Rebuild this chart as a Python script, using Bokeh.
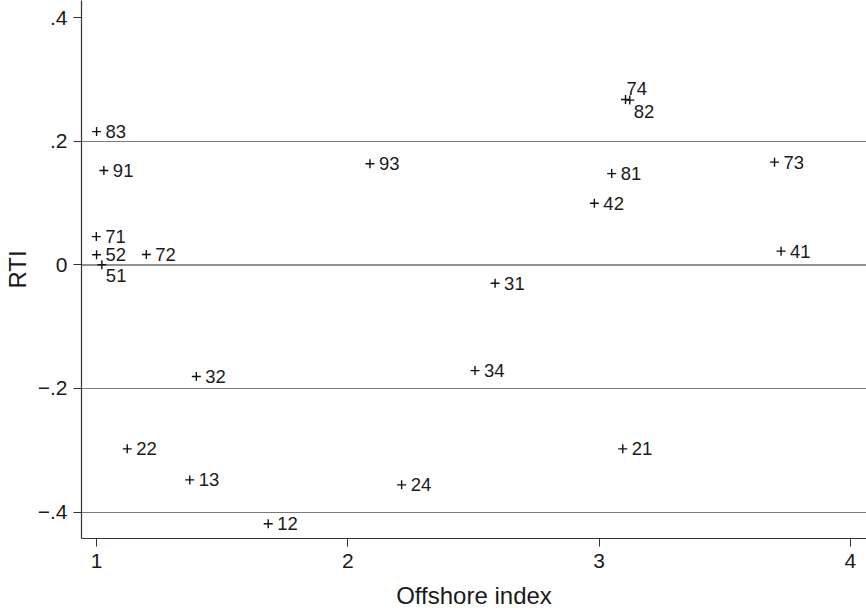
from bokeh.plotting import figure
from bokeh.models import ColumnDataSource, LabelSet, FixedTicker, Range1d, Span
from bokeh.core.properties import value
from bokeh.embed import file_html
from bokeh.resources import INLINE

# Data
labels = ["83", "91", "93", "71", "52", "72", "51",
          "74", "82", "81", "42", "73", "41", "31",
          "32", "34", "22", "21", "13", "24", "12"]
offshore = [1.000, 1.029, 2.088, 0.999, 1.000, 1.198, 1.021,
            3.105, 3.122, 3.050, 2.981, 3.698, 3.724, 2.586,
            1.397, 2.506, 1.122, 3.094, 1.371, 2.214, 1.683]
rti = [0.216, 0.153, 0.164, 0.046, 0.0165, 0.017, 0.0003,
       0.268, 0.267, 0.148, 0.100, 0.1665, 0.0224, -0.0295,
       -0.1806, -0.171, -0.2977, -0.2977, -0.348, -0.356, -0.419]
# marker-label clock positions (as in Stata's mlabvposition)
label_clock = [3, 3, 3, 3, 3, 3, 5,
               1, 5, 3, 3, 3, 3, 3,
               3, 3, 3, 3, 3, 3, 3]

x_ticks = [1, 2, 3, 4]
y_ticks = [-0.4, -0.2, 0, 0.2, 0.4]
y_tick_labels = ["\u2212.4", "\u2212.2", "0", ".2", ".4"]
grid_values = [-0.4, -0.2, 0.2]

FONT = "Liberation Sans"
TXT = "#1a1a1a"

clock_offsets = {3: (9, 0), 1: (1, 11), 5: (4, -11)}
xo = [clock_offsets[c][0] for c in label_clock]
yo = [clock_offsets[c][1] for c in label_clock]

src = ColumnDataSource(dict(x=offshore, y=rti, lab=labels, xo=xo, yo=yo))

p = figure(width=866, height=611, output_backend="svg", toolbar_location=None,
           x_range=Range1d(0.940, 4.064), y_range=Range1d(-0.4429, 0.4283),
           min_border_left=70, min_border_right=0, min_border_top=0,
           min_border_bottom=73)
p.outline_line_color = None
p.background_fill_color = "white"
p.border_fill_color = "white"

# grid lines
p.xgrid.visible = False
p.ygrid.ticker = FixedTicker(ticks=grid_values)
p.ygrid.grid_line_color = "#7a7a7a"
p.ygrid.grid_line_width = 1.2
p.add_layout(Span(location=0, dimension="width", line_color="#222222", line_width=1.2))

for ax in (p.xaxis[0], p.yaxis[0]):
    ax.axis_line_color = "#333333"
    ax.axis_line_width = 1.2
    ax.major_tick_line_color = "#333333"
    ax.major_tick_out = 8
    ax.major_tick_in = 0
    ax.minor_tick_line_color = None
    ax.major_label_text_font = FONT
    ax.major_label_text_font_size = "21px"
    ax.major_label_text_color = TXT
    ax.axis_label_text_font = FONT
    ax.axis_label_text_font_size = "24px"
    ax.axis_label_text_font_style = "normal"
    ax.axis_label_text_color = TXT

p.xaxis.ticker = FixedTicker(ticks=x_ticks)
p.yaxis.ticker = FixedTicker(ticks=y_ticks)
p.yaxis.major_label_overrides = {v: s for v, s in zip(y_ticks, y_tick_labels)}
p.yaxis.major_label_orientation = "horizontal"
p.xaxis.axis_label = "Offshore index"
p.yaxis.axis_label = "RTI"
p.xaxis.major_label_standoff = 7
p.yaxis.major_label_standoff = 6
p.xaxis.axis_label_standoff = 11
p.yaxis.axis_label_standoff = 4

p.scatter("x", "y", source=src, marker="cross", size=9, line_color="#111111", line_width=1.4)

p.add_layout(LabelSet(x="x", y="y", text="lab", source=src, x_offset="xo", y_offset="yo",
                      text_font=value(FONT), text_font_size=value("18.5px"), text_color=TXT,
                      text_align="left", text_baseline="middle"))

open("out.html", "w").write(file_html(p, INLINE))
